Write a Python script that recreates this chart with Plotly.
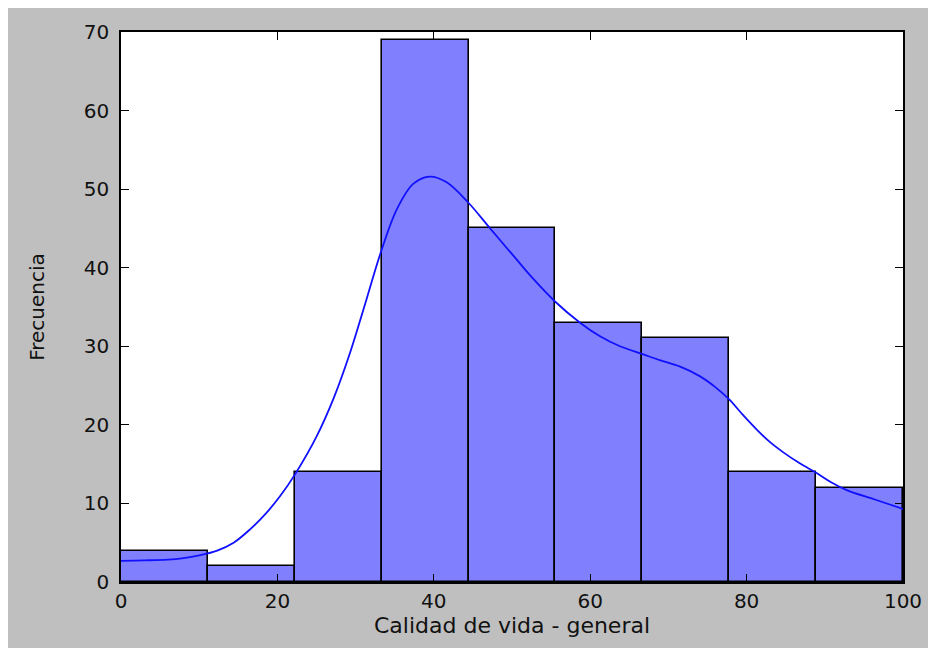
import plotly.graph_objects as go

# Histogram data (bin edges and counts)
bin_edges = [0, 11.11, 22.22, 33.33, 44.44, 55.56, 66.67, 77.78, 88.89, 100]
counts = [4, 2, 14, 69, 45, 33, 31, 14, 12]

# KDE curve
kde_x = [0, 3, 6, 8, 10, 12.3, 14.4, 16.5, 18.6, 20.4, 22.25, 25.0, 27.2,
         29.3, 31.4, 33.3, 35.3, 37.4, 39.5, 41.6, 44.4, 47.2, 50.2, 52.7,
         55.5, 58.7, 61.2, 63.8, 66.7, 69, 71.5, 74, 76, 77.8, 79.5, 81.3,
         83, 84.7, 86.8, 88.9, 90.8, 92.8, 96.4, 100]
kde_y = [2.7, 2.75, 2.85, 3.05, 3.4, 4.0, 5.0, 6.7, 8.8, 11.0, 13.7, 18.5, 23.4,
         29.2, 36.0, 42.2, 47.5, 50.7, 51.6, 50.9, 48.3, 45.0, 41.5, 38.6,
         35.7, 33.0, 31.3, 30.0, 29.0, 28.2, 27.4, 26.2, 24.8, 23.2, 21.3, 19.4,
         17.8, 16.5, 15.1, 13.9, 12.7, 11.7, 10.5, 9.3]

x_ticks = [0, 20, 40, 60, 80, 100]
y_ticks = [0, 10, 20, 30, 40, 50, 60, 70]

centers = [(a + b) / 2 for a, b in zip(bin_edges[:-1], bin_edges[1:])]
widths = [b - a for a, b in zip(bin_edges[:-1], bin_edges[1:])]

fig = go.Figure()
fig.add_trace(go.Bar(
    x=centers, y=counts, width=widths,
    marker=dict(color="#8080ff", line=dict(color="black", width=1.6)),
    showlegend=False,
))
fig.add_trace(go.Scatter(
    x=kde_x, y=kde_y, mode="lines",
    line=dict(color="#1010ff", width=1.8, shape="spline", smoothing=1.0),
    showlegend=False,
))

axis_common = dict(
    showgrid=False, zeroline=False,
    showline=True, linecolor="black", linewidth=1.5, mirror="ticks",
    ticks="inside", ticklen=8, tickwidth=1, tickcolor="black",
    tickfont=dict(family="DejaVu Sans", size=20, color="#111111"),
)

# the page itself adds an 8px white margin at left/top
fig.update_layout(
    width=936, height=648,
    margin=dict(l=113, r=41, t=24, b=74),
    paper_bgcolor="#bfbfbf",
    plot_bgcolor="white",
    bargap=0,
    xaxis=dict(range=[0, 100], tickvals=x_ticks, ticklabelstandoff=0,
               title=dict(text="Calidad de vida - general", standoff=4,
                          font=dict(family="DejaVu Sans", size=22, color="#111111")),
               **axis_common),
    yaxis=dict(range=[0, 70], tickvals=y_ticks, ticklabelstandoff=6,
               title=dict(text="Frecuencia", standoff=34,
                          font=dict(family="DejaVu Sans", size=20, color="#111111")),
               **axis_common),
)

fig.write_html("out.html")
